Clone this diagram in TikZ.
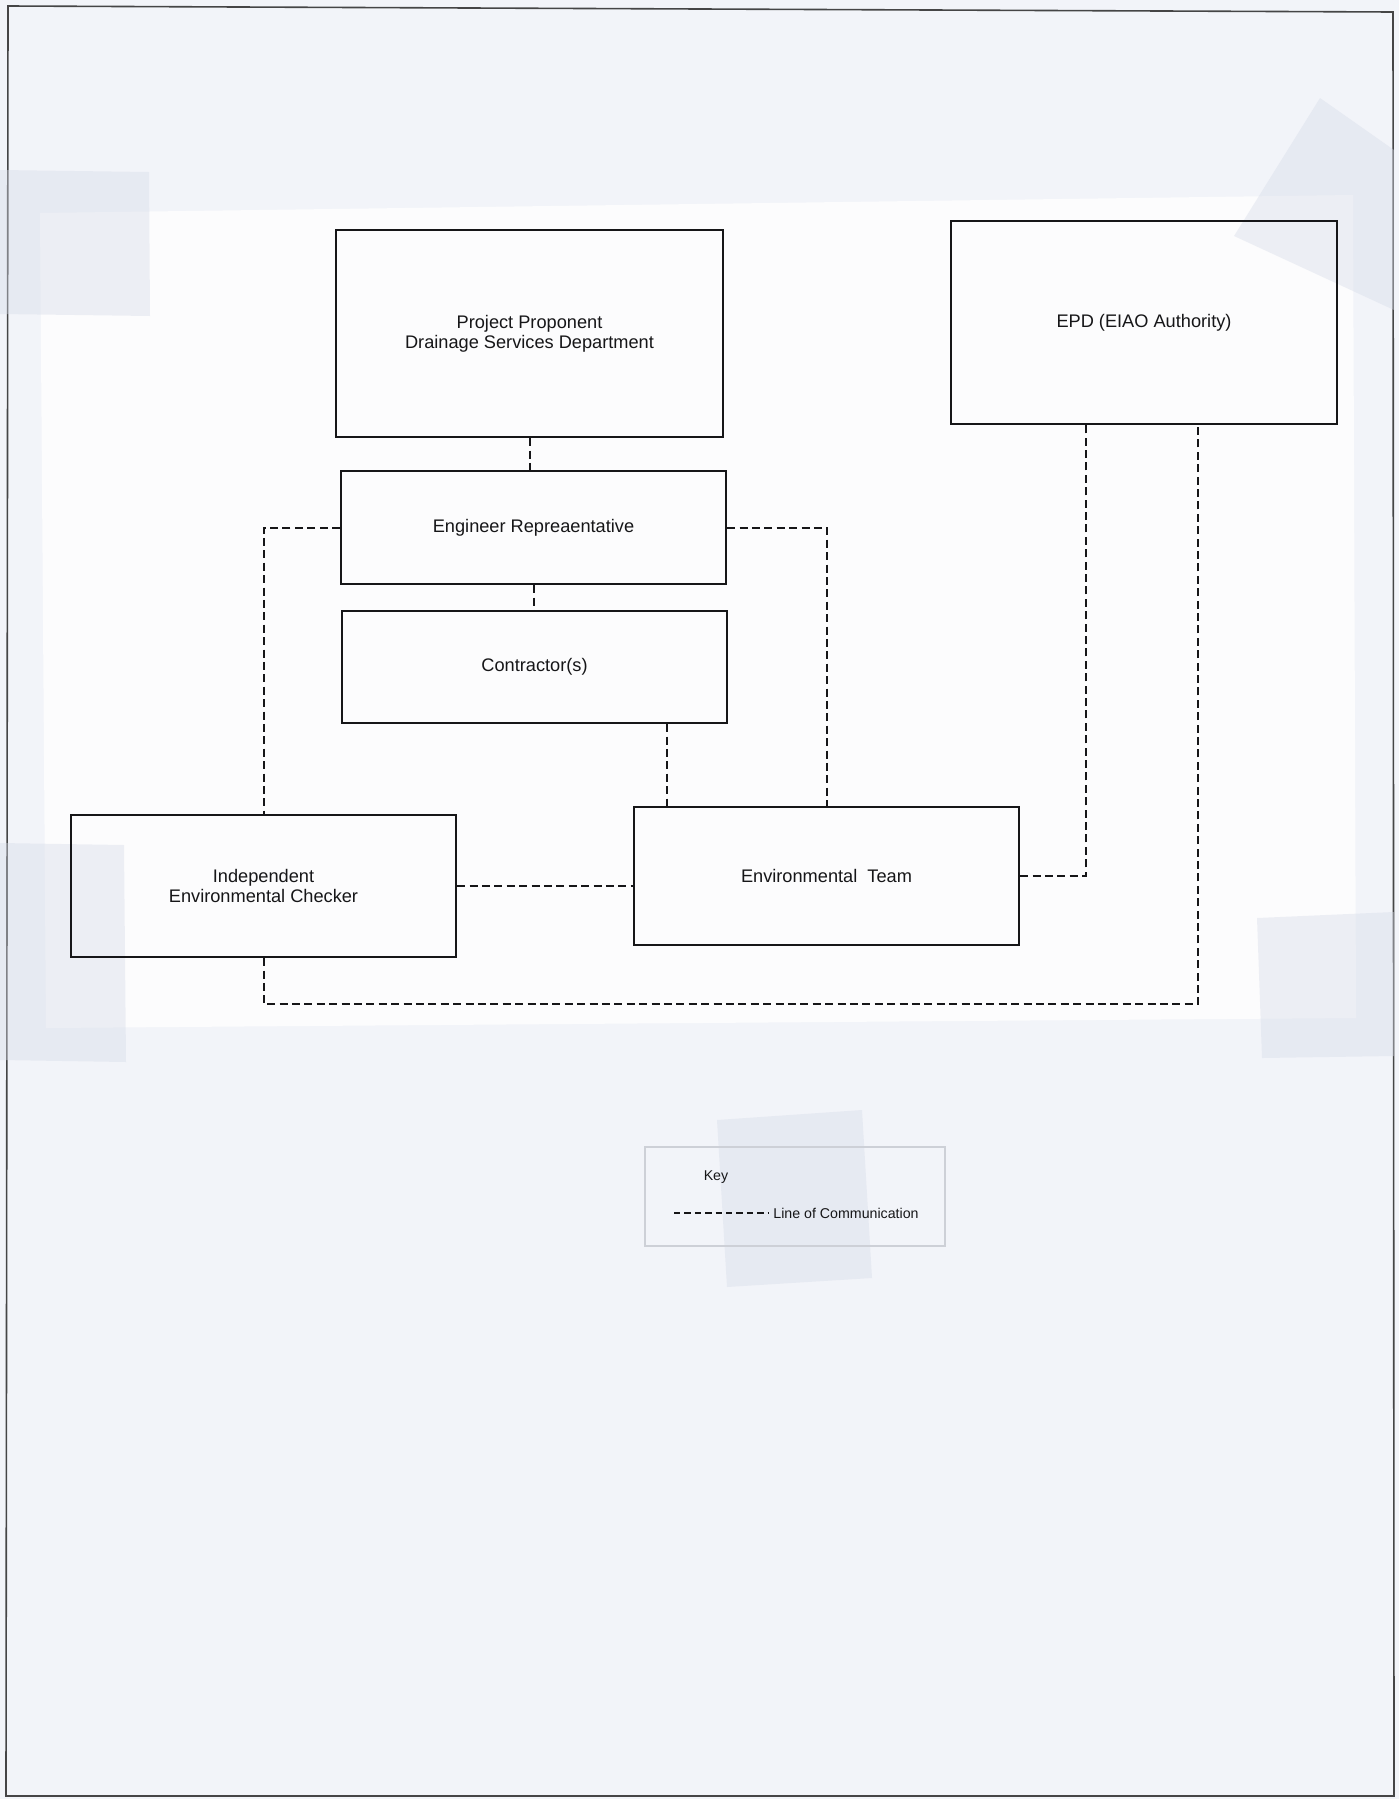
\documentclass[tikz,border=0pt]{standalone}
\usepackage{fontspec}
\setmainfont{Liberation Sans}
\usetikzlibrary{calc}
\definecolor{pagebg}{RGB}{242,244,249}
\definecolor{panelbg}{RGB}{252,252,253}
\definecolor{tape}{RGB}{214,219,232}
\definecolor{ink}{RGB}{22,22,24}
\definecolor{keyline}{RGB}{205,208,215}
\begin{document}
\begin{tikzpicture}[x=0.5pt,y=-0.5pt,
  box/.style={draw=ink, line width=1.1pt, inner sep=0pt},
  comm/.style={draw=ink, line width=1pt, dash pattern=on 4pt off 2.2pt},
  lbl/.style={font=\fontsize{9.1}{10}\selectfont, text=ink, align=center},
  small/.style={font=\fontsize{7.1}{8.5}\selectfont, text=ink},
  tapepatch/.style={fill=tape, fill opacity=0.4, draw=none}]
\useasboundingbox (0,0) rectangle (1399,1799);
% scanned page background
\fill[pagebg] (0,0) rectangle (1399,1799);
\draw[draw=ink!80, line width=0.8pt] (8,6) -- (1393,12) -- (1394,1796) -- (6,1796) -- cycle;
% white sheet carrying the chart
\fill[panelbg] (40,213) -- (1353,195) -- (1356,1018) -- (46,1028) -- cycle;
% tape patches
\fill[tapepatch] (0,170) -- (149,172) -- (150,316) -- (0,314) -- cycle;
\fill[tapepatch] (1320,98) -- (1394,150) -- (1394,310) -- (1234,236) -- cycle;
\fill[tapepatch] (0,843) -- (124,845) -- (126,1062) -- (0,1060) -- cycle;
\fill[tapepatch] (1257,918) -- (1394,912) -- (1394,1056) -- (1262,1058) -- cycle;
\fill[tapepatch] (717,1120) -- (862,1110) -- (872,1278) -- (727,1287) -- cycle;

% boxes
\node[box, minimum width=193.5pt, minimum height=103.5pt, lbl] (pp) at (529.5,333.5)
  {Project Proponent\\Drainage Services Department};
\node[box, minimum width=193pt, minimum height=101.5pt, lbl] (epd) at (1144,322.5)
  {EPD (EIAO Authority)};
\node[box, minimum width=192.5pt, minimum height=56.5pt, lbl] (eng) at (533.5,527.5)
  {Engineer Repreaentative};
\node[box, minimum width=192.5pt, minimum height=56pt, lbl, text depth=2.2pt] (con) at (534.5,667)
  {Contractor(s)};
\node[box, minimum width=192.5pt, minimum height=71pt, lbl] (iec) at (263.5,886)
  {Independent\\Environmental Checker};
\node[box, minimum width=192.5pt, minimum height=69pt, lbl] (et) at (826.5,876)
  {Environmental\ \ Team};

% lines of communication
\draw[comm] (pp.south) -- (pp.south |- eng.north);
\draw[comm] (eng.south) -- (eng.south |- con.north);
\draw[comm] (eng.west) -| (iec.north);
\draw[comm] (eng.east) -| (et.north);
\coordinate (conb) at ($(con.south west)!0.842!(con.south east)$);
\draw[comm] (conb) -- (conb |- et.north);
\draw[comm] (iec.east) -- (iec.east -| et.west);
\coordinate (epdl) at ($(epd.south west)!0.35!(epd.south east)$);
\coordinate (epdr) at ($(epd.south west)!0.64!(epd.south east)$);
\draw[comm] (et.east) -| (epdl);
\draw[comm] (iec.south) -- ++(0,46) -| (epdr);

% key
\node[draw=keyline, line width=0.6pt, minimum width=150pt, minimum height=49.5pt, inner sep=0pt] (key) at (795,1196.5) {};
\node[small] (keyt) at (716,1177) {Key};
\coordinate (k1) at (674,1213);
\coordinate (k2) at (768,1213);
\draw[comm, dash pattern=on 3.2pt off 2pt] (k1) -- (k2);
\node[small, anchor=west, inner sep=0pt] (keyl) at (773,1213) {Line of Communication};
\end{tikzpicture}
\end{document}
